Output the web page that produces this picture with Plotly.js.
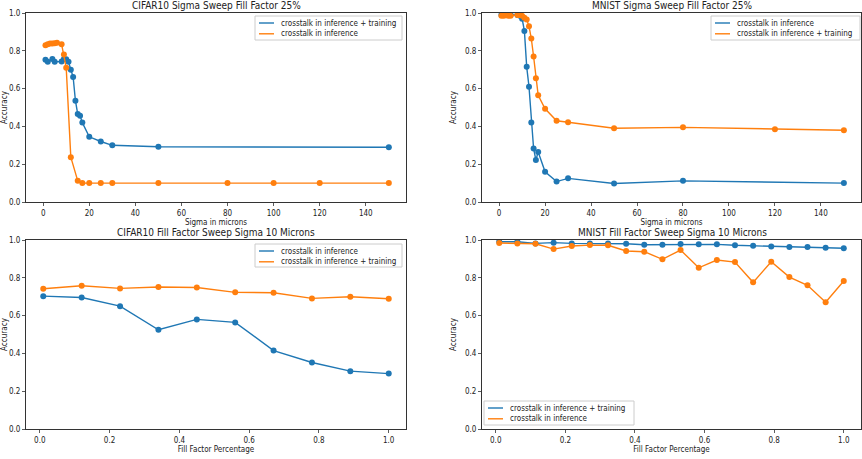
<!DOCTYPE html>
<html>
<head>
<meta charset="utf-8">
<script src="https://cdn.plot.ly/plotly-3.0.1.min.js"></script>
<style>html,body{margin:0;padding:0;background:#fff;}#chart{width:862px;height:459px;}</style>
</head>
<body>
<div id="chart"></div>
<script>
// ---- Data ----
// CIFAR10 Sigma Sweep Fill Factor 25%
const cifarSigmaTrainX = [1,2,4,5,8,9,10,11,12,13,14,15,16,17,20,25,30,50,150];
const cifarSigmaTrainY = [0.752,0.742,0.756,0.742,0.743,0.756,0.755,0.742,0.70,0.662,0.536,0.465,0.457,0.42,0.345,0.32,0.30,0.292,0.29];
const cifarSigmaInfX = [1,2,3,4,5,6,8,9,10,12,15,17,20,25,30,50,80,100,120,150];
const cifarSigmaInfY = [0.83,0.835,0.838,0.838,0.84,0.842,0.835,0.78,0.71,0.237,0.112,0.10,0.10,0.10,0.10,0.10,0.10,0.10,0.10,0.10];

// MNIST Sigma Sweep Fill Factor 25%
const mnistSigmaInfX = [1,2,3,4,5,8,9,10,11,12,13,14,15,16,17,20,25,30,50,80,150];
const mnistSigmaInfY = [0.99,0.99,0.99,0.99,0.99,0.99,0.985,0.97,0.905,0.715,0.61,0.42,0.283,0.222,0.265,0.16,0.108,0.125,0.098,0.112,0.10];
const mnistSigmaTrainX = [1,2,3,4,5,8,9,10,11,12,13,14,15,16,17,20,25,30,50,80,120,150];
const mnistSigmaTrainY = [0.985,0.985,0.988,0.985,0.985,0.99,0.99,0.985,0.975,0.965,0.93,0.865,0.77,0.655,0.565,0.493,0.43,0.422,0.39,0.395,0.385,0.38];

// CIFAR10 Fill Factor Sweep Sigma 10 Microns
const cifarFillX = [0.01,0.12,0.23,0.34,0.45,0.56,0.67,0.78,0.89,1.0];
const cifarFillInfY = [0.703,0.696,0.65,0.525,0.58,0.564,0.415,0.352,0.306,0.293];
const cifarFillTrainY = [0.742,0.758,0.744,0.751,0.749,0.723,0.721,0.691,0.70,0.689];

// MNIST Fill Factor Sweep Sigma 10 Microns
const mnistFillX = [0.01,0.0621,0.1142,0.1663,0.2184,0.2705,0.3226,0.3747,0.4268,0.4789,0.5311,0.5832,0.6353,0.6874,0.7395,0.7916,0.8437,0.8958,0.9479,1.0];
const mnistFillTrainY = [0.991,0.991,0.982,0.986,0.982,0.982,0.982,0.98,0.975,0.975,0.979,0.977,0.977,0.972,0.97,0.966,0.963,0.963,0.959,0.956];
const mnistFillInfY = [0.984,0.982,0.98,0.952,0.968,0.973,0.972,0.942,0.938,0.898,0.947,0.853,0.894,0.883,0.776,0.885,0.804,0.76,0.671,0.783];

const titles = ["CIFAR10 Sigma Sweep Fill Factor 25%","MNIST Sigma Sweep Fill Factor 25%","CIFAR10 Fill Factor Sweep Sigma 10 Microns","MNIST Fill Factor Sweep Sigma 10 Microns"];
const labelInf = "crosstalk in inference";
const labelTrain = "crosstalk in inference + training";

// ---- Styles ----
const BLUE = "#1f77b4", ORANGE = "#ff7f0e";
const FONT = "DejaVu Sans Condensed, DejaVu Sans, sans-serif";
const TXT = "#222";
function tr(x, y, name, color, xa, ya) {
  return {x: x, y: y, name: name, type: "scatter", mode: "lines+markers",
    line: {color: color, width: 1.4}, marker: {color: color, size: 6},
    xaxis: xa, yaxis: ya, showlegend: false, hoverinfo: "x+y"};
}
const data = [
  tr(cifarSigmaTrainX, cifarSigmaTrainY, labelTrain, BLUE, "x", "y"),
  tr(cifarSigmaInfX, cifarSigmaInfY, labelInf, ORANGE, "x", "y"),
  tr(mnistSigmaInfX, mnistSigmaInfY, labelInf, BLUE, "x2", "y2"),
  tr(mnistSigmaTrainX, mnistSigmaTrainY, labelTrain, ORANGE, "x2", "y2"),
  tr(cifarFillX, cifarFillInfY, labelInf, BLUE, "x3", "y3"),
  tr(cifarFillX, cifarFillTrainY, labelTrain, ORANGE, "x3", "y3"),
  tr(mnistFillX, mnistFillTrainY, labelTrain, BLUE, "x4", "y4"),
  tr(mnistFillX, mnistFillInfY, labelInf, ORANGE, "x4", "y4")
];

const W = 862, H = 459;
const colL = [26/W, 406/W], colR = [482/W, 861/W];
const rowT = [1-202/H, 1-13/H], rowB = [1-429/H, 1-240/H];
const tickFont = {family: FONT, size: 8, color: TXT};
function xax(dom, anchor, range, dtick, fmt, title) {
  return {domain: dom, anchor: anchor, range: range, dtick: dtick, tick0: 0, tickformat: fmt,
    showgrid: false, zeroline: false, showline: true, mirror: true, linecolor: "#333", linewidth: 1,
    ticks: "outside", ticklen: 3, tickwidth: 0.8, tickcolor: "#333", tickfont: tickFont,
    title: {text: title, font: {family: FONT, size: 8, color: TXT}, standoff: 2}, automargin: false};
}
function yax(dom, anchor) {
  return {domain: dom, anchor: anchor, range: [0, 1], dtick: 0.2, tick0: 0, tickformat: ".1f",
    showgrid: false, zeroline: false, showline: true, mirror: true, linecolor: "#333", linewidth: 1,
    ticks: "outside", ticklen: 3, tickwidth: 0.8, tickcolor: "#333", tickfont: tickFont,
    title: {text: "Accuracy", font: {family: FONT, size: 8, color: TXT}, standoff: 7}, automargin: false};
}
const sigRange = [-7.45, 157.45], fillRange = [-0.0395, 1.0495];
function ttl(text, x, y) {
  return {text: text, x: x / W, y: 1 - y / H, xref: "paper", yref: "paper", xanchor: "center", yanchor: "middle",
    showarrow: false, font: {family: FONT, size: 10, color: TXT}};
}

// Legend boxes drawn in pixel positions (converted to paper coords)
const shapes = [], annotations = [
  ttl(titles[0], 216, 6), ttl(titles[1], 672, 6), ttl(titles[2], 216, 232), ttl(titles[3], 672, 232)
];
function legendBox(x0, y0, x1, y1, rows) {
  shapes.push({type: "rect", xref: "paper", yref: "paper", x0: x0 / W, x1: x1 / W, y0: 1 - y0 / H, y1: 1 - y1 / H,
    line: {color: "#ccc", width: 1}, fillcolor: "rgba(255,255,255,0.85)", layer: "above"});
  rows.forEach(function (r, i) {
    const yc = y0 + 7 + i * 10.8;
    shapes.push({type: "line", xref: "paper", yref: "paper", x0: (x0 + 4) / W, x1: (x0 + 19) / W,
      y0: 1 - yc / H, y1: 1 - yc / H, line: {color: r[1], width: 1.4}, layer: "above"});
    annotations.push({text: r[0], x: (x0 + 24) / W, y: 1 - yc / H, xref: "paper", yref: "paper",
      xanchor: "left", yanchor: "middle", showarrow: false, font: {family: FONT, size: 8, color: TXT}});
  });
}
legendBox(255, 16, 402, 40, [[labelTrain, BLUE], [labelInf, ORANGE]]);
legendBox(711, 16, 860, 40, [[labelInf, BLUE], [labelTrain, ORANGE]]);
legendBox(255, 244, 402, 267, [[labelInf, BLUE], [labelTrain, ORANGE]]);
legendBox(484, 401, 634, 425, [[labelTrain, BLUE], [labelInf, ORANGE]]);

const layout = {
  width: W, height: H, margin: {l: 0, r: 0, t: 0, b: 0},
  paper_bgcolor: "#fff", plot_bgcolor: "#fff", font: {family: FONT},
  xaxis: xax(colL, "y", sigRange, 20, "d", "Sigma in microns"),
  yaxis: yax(rowT, "x"),
  xaxis2: xax(colR, "y2", sigRange, 20, "d", "Sigma in microns"),
  yaxis2: yax(rowT, "x2"),
  xaxis3: xax(colL, "y3", fillRange, 0.2, ".1f", "Fill Factor Percentage"),
  yaxis3: yax(rowB, "x3"),
  xaxis4: xax(colR, "y4", fillRange, 0.2, ".1f", "Fill Factor Percentage"),
  yaxis4: yax(rowB, "x4"),
  showlegend: false,
  shapes: shapes,
  annotations: annotations
};
Plotly.newPlot("chart", data, layout, {displayModeBar: false, staticPlot: true});
</script>
</body>
</html>
